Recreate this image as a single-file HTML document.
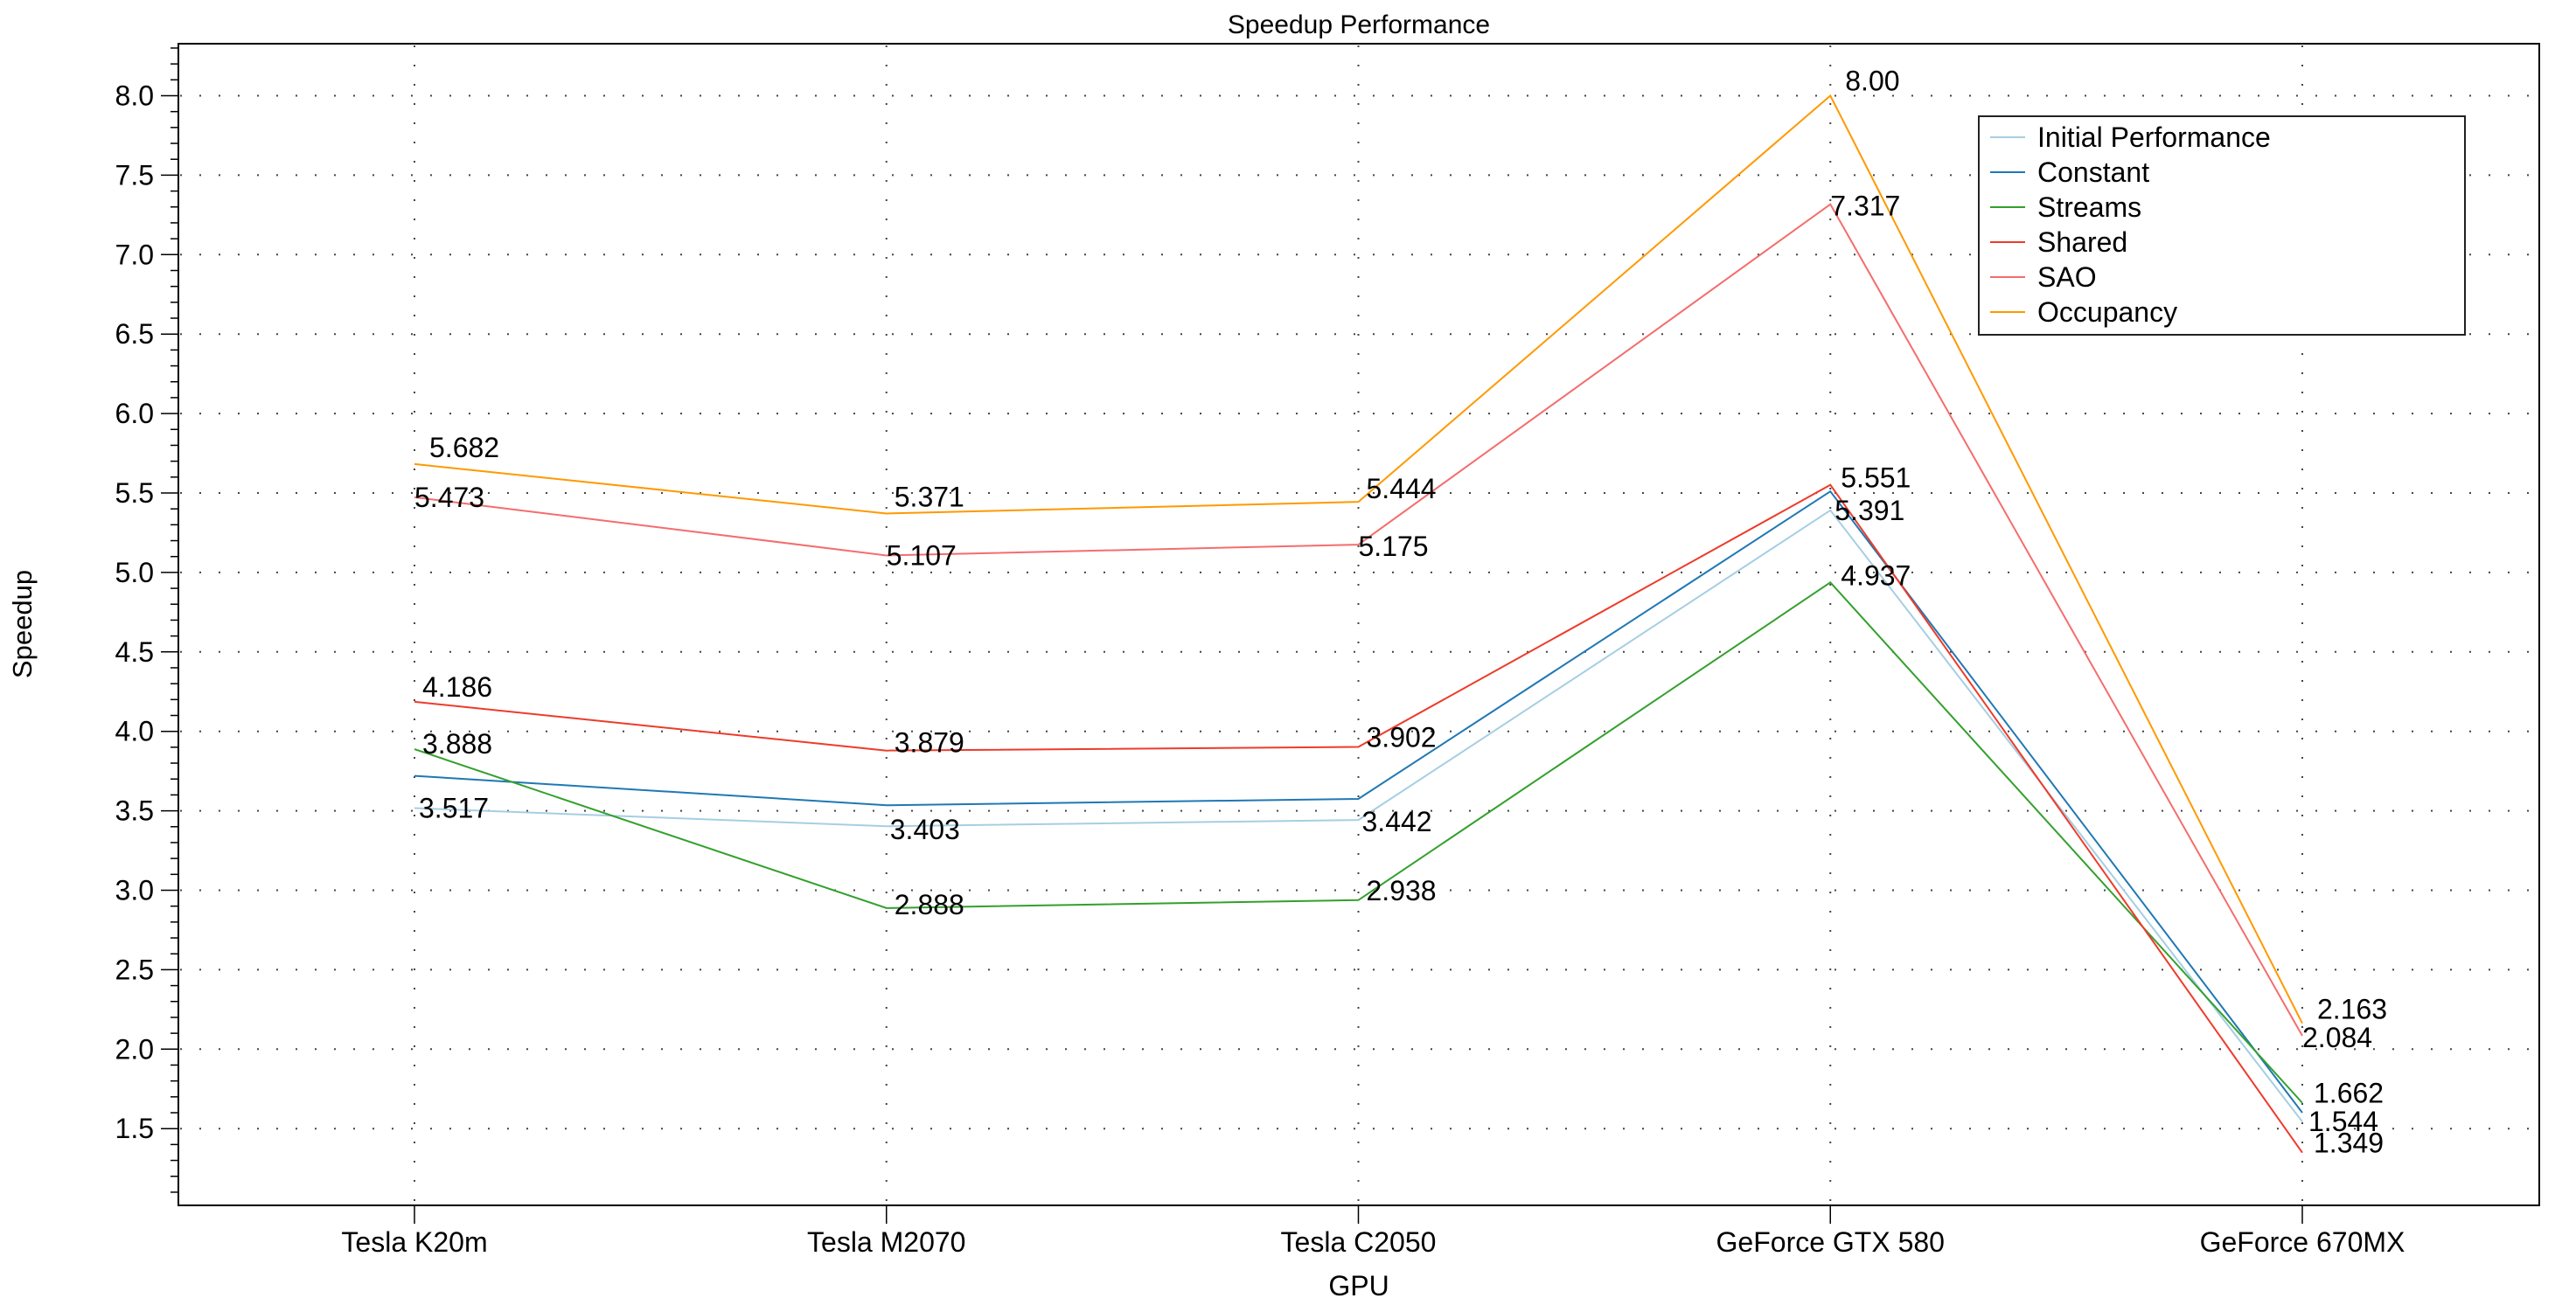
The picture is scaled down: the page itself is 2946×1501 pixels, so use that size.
<!DOCTYPE html>
<html><head><meta charset="utf-8"><style>
html,body{margin:0;padding:0;background:#fff;}
svg{display:block;font-family:"Liberation Sans",sans-serif;}
</style></head><body>
<svg id="chart" width="2946" height="1501" viewBox="0 0 2946 1501" xmlns="http://www.w3.org/2000/svg">
<text x="1554" y="38" font-size="30" text-anchor="middle">Speedup Performance</text>
<text transform="translate(36,714) rotate(-90)" font-size="31" text-anchor="middle">Speedup</text>
<text x="1554" y="1482" font-size="32" text-anchor="middle">GPU</text>
<g id="grid"></g>
<g id="axes"></g>
<g id="series"></g>
<g id="labels"></g>
<rect x="204" y="50" width="2700" height="1329" fill="none" stroke="#000" stroke-width="2"/>
<g id="legend"></g>
</svg>
<script>
const categories = ["Tesla K20m","Tesla M2070","Tesla C2050","GeForce GTX 580","GeForce 670MX"];
const seriesNames = ["Initial Performance","Constant","Streams","Shared","SAO","Occupancy"];
const initialValues = [3.517,3.403,3.442,5.391,1.544];
const constantValues = [3.72,3.535,3.575,5.51,1.60];
const streamsValues = [3.888,2.888,2.938,4.937,1.662];
const sharedValues = [4.186,3.879,3.902,5.551,1.349];
const saoValues = [5.473,5.107,5.175,7.317,2.084];
const occupancyValues = [5.682,5.371,5.444,8.00,2.163];
const initialLabels = ["3.517","3.403","3.442","5.391","1.544"];
const streamsLabels = ["3.888","2.888","2.938","4.937","1.662"];
const sharedLabels = ["4.186","3.879","3.902","5.551","1.349"];
const saoLabels = ["5.473","5.107","5.175","7.317","2.084"];
const occupancyLabels = ["5.682","5.371","5.444","8.00","2.163"];
const yTickLabels = ["1.5","2.0","2.5","3.0","3.5","4.0","4.5","5.0","5.5","6.0","6.5","7.0","7.5","8.0"];

const NS="http://www.w3.org/2000/svg";
const colors=["#a6cee3","#1f78b4","#33a02c","#ee3b2b","#f46d6d","#ff9900"];
const allValues=[initialValues,constantValues,streamsValues,sharedValues,saoValues,occupancyValues];
const allLabels=[initialLabels,null,streamsLabels,sharedLabels,saoLabels,occupancyLabels];
const offs=[
 [[5,0],[4,4],[4,2],[5,0],[7,0]],
 null,
 [[9,-6],[9,-4],[9,-11],[12,-8],[13,-11]],
 [[9,-17],[9,-9],[9,-11],[12,-8],[13,-11]],
 [[0,0],[0,0],[0,2],[0,2],[0,2]],
 [[17,-19],[9,-19],[9,-15],[17,-17],[17,-16]]
];
function x(i){return 474+i*539.75;}
function y(v){return 109.5+(8-v)*181.8;}
function mk(tag,attrs,parent){const e=document.createElementNS(NS,tag);for(const k in attrs)e.setAttribute(k,attrs[k]);parent.appendChild(e);return e;}
const grid=document.getElementById('grid'),axes=document.getElementById('axes'),ser=document.getElementById('series'),lab=document.getElementById('labels'),leg=document.getElementById('legend');
yTickLabels.forEach(t=>{const v=parseFloat(t);const yy=y(v);
 const g=mk('line',{x1:206,x2:2902,y1:yy,y2:yy,stroke:'#444','stroke-width':2,'stroke-dasharray':'2 20'},grid);
 
 
 const tl=mk('text',{x:176,y:yy+11,'font-size':32,'text-anchor':'end'},axes);tl.textContent=t;
 
 
});
for(let k=11;k<=83;k++){const v=k/10;const yy=y(v);const major=(k%5===0);
 const t=mk('line',{x1:major?184:195,x2:204,y1:yy,y2:yy,stroke:'#000','stroke-width':1.5},axes);
 
 
}
categories.forEach((c,i)=>{const xx=x(i);
 const g=mk('line',{x1:xx,x2:xx,y1:52,y2:1377,stroke:'#444','stroke-width':2,'stroke-dasharray':'2 20'},grid);
 
 
 const t=mk('line',{x1:xx,x2:xx,y1:1379,y2:1400,stroke:'#000','stroke-width':1.5},axes);
 
 
 const tl=mk('text',{x:xx,y:1432,'font-size':32,'text-anchor':'middle'},axes);tl.textContent=c;
 
 
});
allValues.forEach((vals,s)=>{
 const pts=vals.map((v,i)=>x(i)+','+y(v)).join(' ');
 const p=mk('polyline',{points:pts,fill:'none',stroke:colors[s],'stroke-width':2},ser);
 
 
 if(allLabels[s]){vals.forEach((v,i)=>{
  const o=offs[s][i];
  const t=mk('text',{x:x(i)+o[0],y:y(v)+o[1]+11,'font-size':32},lab);t.textContent=allLabels[s][i];
  
  
 });}
});
const lb=mk('rect',{x:2263,y:133,width:556,height:250,fill:'#fff',stroke:'#222','stroke-width':2},leg);


seriesNames.forEach((n,s)=>{const yy=157+s*40;
 const l=mk('line',{x1:2276,x2:2316,y1:yy,y2:yy,stroke:colors[s],'stroke-width':2},leg);
 
 
 const t=mk('text',{x:2330,y:yy+11,'font-size':32},leg);t.textContent=n;
 
 
});
</script>
</body></html>
